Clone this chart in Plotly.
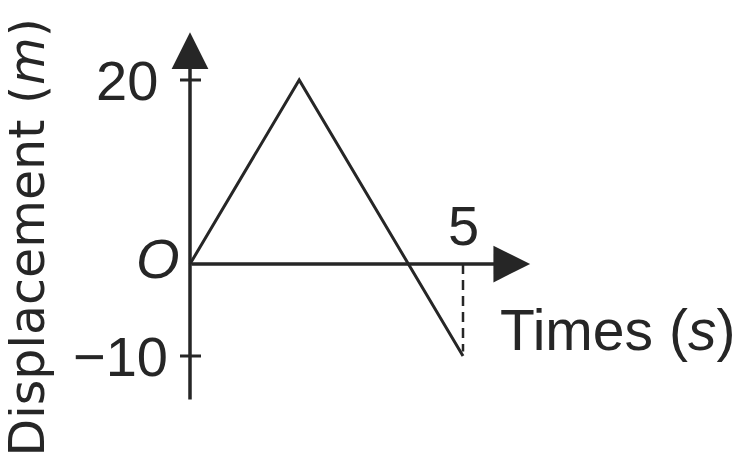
import plotly.graph_objects as go

# ---- data ----
time_s = [0, 2, 5]
displacement_m = [0, 20, -10]
y_tick_vals = [20, -10]
y_tick_text = ["20", "\u221210"]
x_tick_vals = [5]
x_tick_text = ["5"]
origin_label = "<i>O</i>"
x_title = "Times (<i>s</i>)"
y_title = "Displacement (<i>m</i>)"

# ---- style / layout ----
INK = "#262626"
FONT = "Liberation Sans"
W, H = 745, 467
PAGE = 8             # browser default body margin
X0, XS = 190 - PAGE, 54.6   # pixel of t=0, pixels per second
Y0, YS = 264 - PAGE, 9.2    # pixel of s=0, pixels per metre
x_range = [-X0 / XS, (W - X0) / XS]
y_range = [-(H - Y0) / YS, Y0 / YS]

X_AXIS_END = 6.23
Y_AXIS_TOP = 25.2
Y_AXIS_BOTTOM = -14.9
Y_LABEL_SHIFT = [-30, -20]

fig = go.Figure()

# the graph line
fig.add_trace(go.Scatter(
    x=time_s, y=displacement_m, mode="lines",
    line=dict(color=INK, width=3), hoverinfo="skip", showlegend=False))

# dashed drop line from the last point to the time axis
fig.add_trace(go.Scatter(
    x=[time_s[-1], time_s[-1]], y=[0, displacement_m[-1] + 0.5], mode="lines",
    line=dict(color=INK, width=2.5, dash="10px,6px"),
    hoverinfo="skip", showlegend=False))

# axes with arrow heads
fig.add_annotation(x=X_AXIS_END, y=0, ax=0, ay=0, xref="x", yref="y",
                   axref="x", ayref="y", text="", showarrow=True,
                   arrowhead=2, arrowsize=2.1, arrowwidth=3.5, arrowcolor=INK)
fig.add_annotation(x=0, y=Y_AXIS_TOP, ax=0, ay=Y_AXIS_BOTTOM, xref="x", yref="y",
                   axref="x", ayref="y", text="", showarrow=True,
                   arrowhead=2, arrowsize=2.1, arrowwidth=3.5, arrowcolor=INK)

# y ticks (crossing the axis) and labels
for v, t, sh in zip(y_tick_vals, y_tick_text, Y_LABEL_SHIFT):
    fig.add_shape(type="line", xref="x", yref="y", xsizemode="pixel", xanchor=0,
                  x0=-10, x1=11, y0=v, y1=v, line=dict(color=INK, width=3))
    fig.add_annotation(x=0, y=v, text=t, showarrow=False, xanchor="right",
                       yanchor="middle", xshift=sh,
                       font=dict(family=FONT, size=56, color=INK))

# x tick labels
for v, t in zip(x_tick_vals, x_tick_text):
    fig.add_annotation(x=v, y=0, text=t, showarrow=False, xanchor="center",
                       yanchor="bottom", yshift=5,
                       font=dict(family=FONT, size=56, color=INK))

# origin label
fig.add_annotation(x=0, y=0, text=origin_label, showarrow=False, xanchor="right",
                   yanchor="middle", xshift=-8, yshift=6,
                   font=dict(family=FONT, size=56, color=INK))

# axis titles
fig.add_annotation(x=(617 - PAGE) / W, y=1 - (330 - PAGE) / H, xref="paper", yref="paper",
                   text=x_title, showarrow=False, xanchor="center", yanchor="middle",
                   font=dict(family=FONT, size=57, color=INK))
fig.add_annotation(x=0, y=1 - (238 - PAGE) / H, xref="paper", yref="paper",
                   text=y_title, showarrow=False, textangle=-90,
                   xanchor="left", yanchor="middle", xshift=-11,
                   font=dict(family="DejaVu Sans", size=49, color=INK))

fig.update_layout(
    width=W, height=H, autosize=False,
    margin=dict(l=0, r=0, t=0, b=0),
    paper_bgcolor="white", plot_bgcolor="white",
    xaxis=dict(range=x_range, visible=False, fixedrange=True),
    yaxis=dict(range=y_range, visible=False, fixedrange=True),
    showlegend=False,
)

fig.write_html("out.html")
